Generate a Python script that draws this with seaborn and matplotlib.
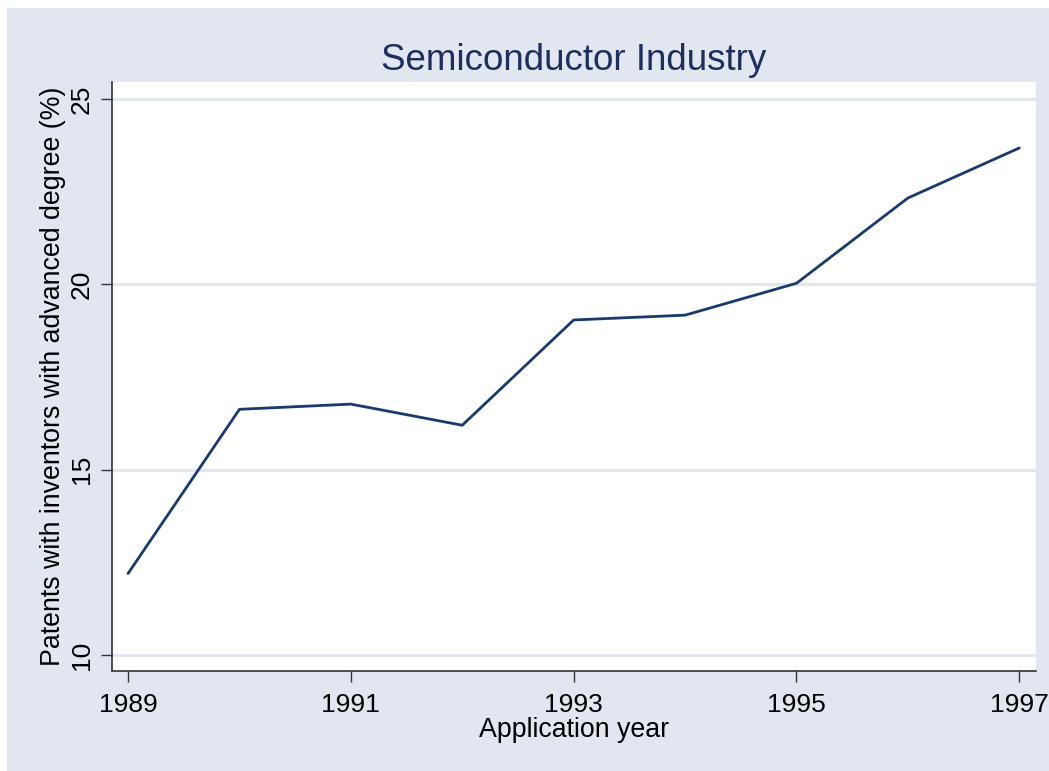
#!/usr/bin/env python3

import matplotlib.pyplot as plt
import matplotlib.patches as mpatches
import pandas as pd
import seaborn as sns

years = [1989, 1990, 1991, 1992, 1993, 1994, 1995, 1996, 1997]
share = [12.2, 16.63, 16.77, 16.2, 19.04, 19.17, 20.03, 22.33, 23.68]
x_ticks = [1989, 1991, 1993, 1995, 1997]
y_ticks = [10, 15, 20, 25]

BG = '#e1e6f0'
NAVY = '#1a3a6b'

sns.set_theme(style='white')
plt.rcParams['font.family'] = ['Liberation Sans', 'DejaVu Sans']

df = pd.DataFrame({'year': years, 'share': share})

fig = plt.figure(figsize=(10.49, 7.71), dpi=100, facecolor='white')
# stata-ish outer panel, white strip on top/left
fig.patches.append(mpatches.Rectangle(
    (7 / 1049, 0), 1 - 7 / 1049, 1 - 8 / 771,
    transform=fig.transFigure, facecolor=BG, edgecolor='none', zorder=-10))

ax = fig.add_axes([112 / 1049, 1 - 671 / 771, 924 / 1049, 589 / 771])
ax.set_facecolor('white')

sns.lineplot(data=df, x='year', y='share', ax=ax, color=NAVY, linewidth=2)

ax.set_xlim(1988.856, 1997.15)
ax.set_ylim(9.57, 25.46)
ax.set_xticks(x_ticks)
ax.set_yticks(y_ticks)
ax.set_yticklabels([str(t) for t in y_ticks], rotation=90, va='center')
ax.tick_params(axis='both', which='major', bottom=True, left=True,
               direction='out', length=8, width=1, color='#333333',
               labelsize=19, labelcolor='black', pad=5)
ax.tick_params(axis='x', pad=8)

for t in y_ticks:
    ax.axhline(t, color=BG, linewidth=2.2, zorder=0)

for side in ['top', 'right']:
    ax.spines[side].set_visible(False)
for side in ['left', 'bottom']:
    ax.spines[side].set_color('#333333')
    ax.spines[side].set_linewidth(1.2)

ax.set_xlabel('Application year', fontsize=19.3, color='black', labelpad=0)
ax.set_ylabel('Patents with inventors with advanced degree (%)',
              fontsize=19.3, color='black', labelpad=3)
ax.set_title('Semiconductor Industry', fontsize=26.5, color='#1e2f5d', pad=9)

fig.savefig('out.png', dpi=100, facecolor=fig.get_facecolor())
